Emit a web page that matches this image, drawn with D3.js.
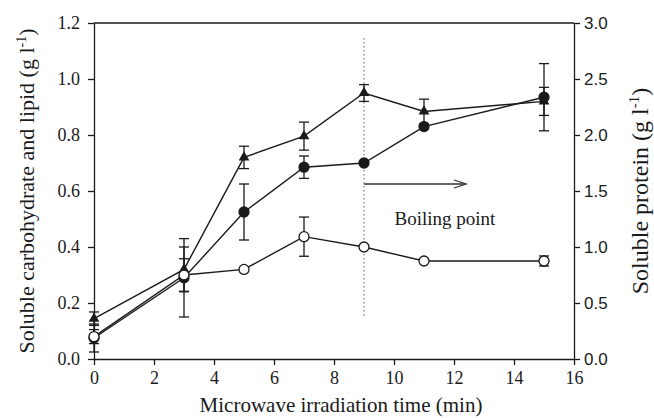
<!DOCTYPE html>
<html><head><meta charset="utf-8">
<script src="https://cdn.jsdelivr.net/npm/d3@7"></script>
</head><body><svg id="c" width="654" height="418"></svg>
<script>
const times = [0, 3, 5, 7, 9, 11, 15];
// Soluble protein (right axis, g/l) – triangles
const protein = [0.36, 0.80, 1.80, 1.99, 2.375, 2.21, 2.30];
const proteinErr = [0.06, 0.20, 0.10, 0.125, 0.075, 0.11, 0.125];
// Soluble carbohydrate (left axis) – filled circles
const carbohydrate = [0.075, 0.29, 0.525, 0.685, 0.70, 0.83, 0.935];
const carbohydrateErr = [0.05, 0.14, 0.10, 0.04, 0, 0, 0.12];
// Soluble lipid (left axis) – open circles
const lipid = [0.08, 0.30, 0.32, 0.437, 0.40, 0.35, 0.35];
const lipidErr = [0.025, 0.058, 0, 0.07, 0, 0, 0.018];
const xTicks = [0, 2, 4, 6, 8, 10, 12, 14, 16];
const yLeftTicks = [0, 0.2, 0.4, 0.6, 0.8, 1.0, 1.2];
const yRightTicks = [0, 0.5, 1.0, 1.5, 2.0, 2.5, 3.0];
const boilingTime = 9;
const boilingLine = [0.155, 1.15];
const arrowSpan = [9, 12.4];
const arrowLevel = 0.625;
const boilingLabel = "Boiling point";

document.body.style.margin = "0";
const svg = d3.select("#c").style("display", "block");
const L = 94, R = 574, T = 23, B = 359;
const x = d3.scaleLinear().domain([0, 16]).range([L, R]);
const yL = d3.scaleLinear().domain([0, 1.2]).range([B, T]);
const yR = d3.scaleLinear().domain([0, 3]).range([B, T]);
const SERIF = "Liberation Serif";
const SANS = "Liberation Sans";
const ink = "#1a1a1a";

svg.append("line").attr("x1", L).attr("x2", R).attr("y1", T).attr("y2", T)
  .attr("stroke", ink).attr("stroke-width", 1.3);

const ax = svg.append("g").attr("transform", `translate(0,${B})`)
  .call(d3.axisBottom(x).tickValues(xTicks).tickSize(6).tickPadding(6).tickSizeOuter(0).tickFormat(d3.format("d")));
const ayl = svg.append("g").attr("transform", `translate(${L},0)`)
  .call(d3.axisLeft(yL).tickValues(yLeftTicks).tickSize(6).tickPadding(8).tickSizeOuter(0).tickFormat(d3.format(".1f")));
const ayr = svg.append("g").attr("transform", `translate(${R},0)`)
  .call(d3.axisRight(yR).tickValues(yRightTicks).tickSize(6).tickPadding(4).tickSizeOuter(0).tickFormat(d3.format(".1f")));
[ax, ayl, ayr].forEach(g => {
  g.select(".domain").attr("stroke", ink).attr("stroke-width", 1.3);
  g.selectAll(".tick line").attr("stroke", ink).attr("stroke-width", 1.3);
  g.selectAll("text").attr("fill", ink);
});
ax.attr("font-family", SERIF).attr("font-size", 18);
ayl.attr("font-family", SERIF).attr("font-size", 18);
ayr.attr("font-family", SANS).attr("font-size", 17);

svg.append("text").attr("x", 341).attr("y", 412).attr("text-anchor", "middle")
  .attr("font-family", SERIF).attr("font-size", 21).attr("fill", ink)
  .text("Microwave irradiation time (min)");
const lt = svg.append("text").attr("transform", `translate(34,${(T + B) / 2}) rotate(-90)`)
  .attr("text-anchor", "middle").attr("font-family", SERIF).attr("font-size", 22).attr("fill", ink);
lt.append("tspan").text("Soluble carbohydrate and lipid (g l");
lt.append("tspan").attr("dy", -8).attr("font-size", 14).text("-1");
lt.append("tspan").attr("dy", 8).text(")");
const rt = svg.append("text").attr("transform", `translate(648,${(T + B) / 2}) rotate(-90)`)
  .attr("text-anchor", "middle").attr("font-family", SERIF).attr("font-size", 24).attr("fill", ink);
rt.append("tspan").text("Soluble protein (g l");
rt.append("tspan").attr("dy", -9).attr("font-size", 15).text("-1");
rt.append("tspan").attr("dy", 9).text(")");

svg.append("line").attr("x1", x(boilingTime)).attr("x2", x(boilingTime))
  .attr("y1", yL(boilingLine[0])).attr("y2", yL(boilingLine[1]))
  .attr("stroke", "#777").attr("stroke-width", 1.2).attr("stroke-dasharray", "1.5,2.5");
const ay = yL(arrowLevel), ax2 = x(arrowSpan[1]);
svg.append("line").attr("x1", x(arrowSpan[0])).attr("x2", ax2).attr("y1", ay).attr("y2", ay)
  .attr("stroke", "#333").attr("stroke-width", 1.3);
svg.append("path").attr("d", `M${ax2 - 12},${ay - 4}L${ax2},${ay}L${ax2 - 12},${ay + 4}`)
  .attr("fill", "none").attr("stroke", "#333").attr("stroke-width", 1.3);
svg.append("text").attr("x", 445).attr("y", 225).attr("text-anchor", "middle")
  .attr("font-family", SERIF).attr("font-size", 19).attr("fill", ink).text(boilingLabel);

const series = [
  {v: protein, e: proteinErr, y: yR, shape: "tri"},
  {v: carbohydrate, e: carbohydrateErr, y: yL, shape: "fill"},
  {v: lipid, e: lipidErr, y: yL, shape: "open"}
];
series.forEach(s => {
  const g = svg.append("g").attr("stroke", ink).attr("stroke-width", 1.3);
  times.forEach((t, i) => {
    if (!s.e[i]) return;
    const cx = x(t), y1 = s.y(s.v[i] - s.e[i]), y2 = s.y(s.v[i] + s.e[i]);
    g.append("line").attr("x1", cx).attr("x2", cx).attr("y1", y1).attr("y2", y2);
    g.append("line").attr("x1", cx - 5).attr("x2", cx + 5).attr("y1", y1).attr("y2", y1);
    g.append("line").attr("x1", cx - 5).attr("x2", cx + 5).attr("y1", y2).attr("y2", y2);
  });
});
series.forEach(s => {
  const line = d3.line().x((d, i) => x(times[i])).y(d => s.y(d));
  svg.append("path").datum(s.v).attr("d", line).attr("fill", "none")
    .attr("stroke", ink).attr("stroke-width", 1.4);
});
series.forEach(s => {
  times.forEach((t, i) => {
    const cx = x(t), cy = s.y(s.v[i]);
    if (s.shape === "tri") {
      svg.append("path").attr("d", d3.symbol(d3.symbolTriangle, 50)()).attr("transform", `translate(${cx},${cy})`)
        .attr("fill", ink);
    } else {
      svg.append("circle").attr("cx", cx).attr("cy", cy).attr("r", 5)
        .attr("fill", s.shape === "fill" ? ink : "#fff").attr("stroke", ink).attr("stroke-width", 1.3);
    }
  });
});
</script></body></html>
